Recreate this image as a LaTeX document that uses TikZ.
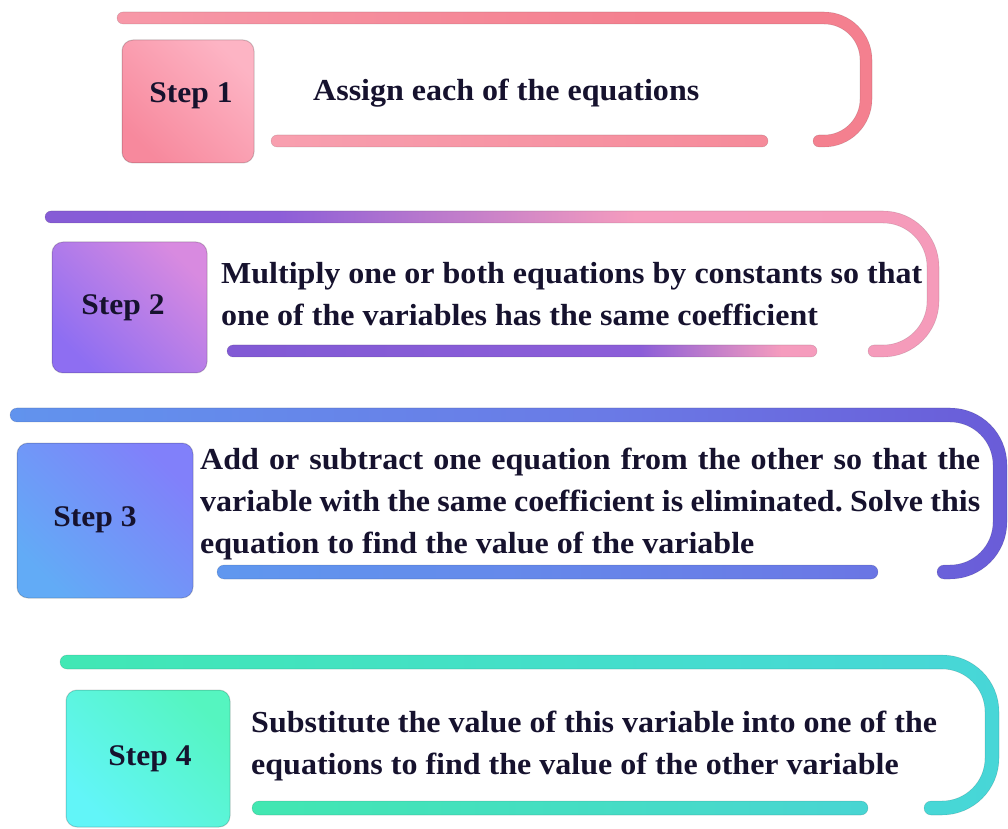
\documentclass[tikz,border=0pt]{standalone}
\usepackage{fontspec}
\setmainfont[FakeStretch=1.05]{Liberation Serif}
\definecolor{ink}{HTML}{16122E}
% section 1
\definecolor{pkA}{HTML}{F9AABA}
\definecolor{pkB}{HTML}{F4808F}
% section 2
\definecolor{puA}{HTML}{7A57D3}
\definecolor{puB}{HTML}{8C5ED8}
\definecolor{pkC}{HTML}{F59CBE}
\definecolor{pkD}{HTML}{F59AB4}
% section 3
\definecolor{blA}{HTML}{5AA8F4}
\definecolor{blB}{HTML}{6A7AE6}
\definecolor{blC}{HTML}{6A5CD8}
% section 4
\definecolor{grA}{HTML}{3EF0A0}
\definecolor{grB}{HTML}{45DCD0}
\definecolor{grC}{HTML}{4CCCE4}
% boxes
\definecolor{boxOneT}{HTML}{FDB4C4}
\definecolor{boxOneB}{HTML}{F7899D}
\definecolor{boxTwoT}{HTML}{D88AE0}
\definecolor{boxTwoM}{HTML}{FC98CA}
\definecolor{boxTwoB}{HTML}{8E6EF2}
\definecolor{boxThreeT}{HTML}{8180FA}
\definecolor{boxThreeB}{HTML}{62ABF6}
\definecolor{boxFourT}{HTML}{55F5C0}
\definecolor{boxFourB}{HTML}{62F5F8}
\pgfdeclarehorizontalshading{shOne}{100bp}{color(0bp)=(pkA); color(60bp)=(pkB); color(100bp)=(pkB)}
\pgfdeclarehorizontalshading{shOneB}{100bp}{color(0bp)=(pkA); color(100bp)=(pkB)}
\pgfdeclarehorizontalshading{shTwo}{100bp}{color(0bp)=(puA); color(38bp)=(puB); color(58bp)=(pkC); color(100bp)=(pkD)}
\pgfdeclarehorizontalshading{shTwoB}{100bp}{color(0bp)=(puA); color(60bp)=(puB); color(72bp)=(pkC); color(100bp)=(pkD)}
\pgfdeclarehorizontalshading{shThree}{100bp}{color(0bp)=(blA); color(55bp)=(blB); color(75bp)=(blC); color(100bp)=(blC)}
\pgfdeclarehorizontalshading{shThreeB}{100bp}{color(0bp)=(blA); color(70bp)=(blB); color(100bp)=(blC)}
\pgfdeclarehorizontalshading{shFour}{100bp}{color(0bp)=(grA); color(60bp)=(grB); color(100bp)=(grC)}
\pgfdeclarehorizontalshading{shFourB}{100bp}{color(0bp)=(grA); color(100bp)=(grC)}
% #1 xl, #2 top y, #3 right x, #4 bottom y, #5 bottom end x, #6 radius, #7 half width, #8 style
\newcommand\UShape[8]{\path[#8] (#1,#2+#7) -- (#3-#6,#2+#7)
  arc[start angle=90,end angle=0,radius=#6pt+#7pt] -- (#3+#7,#4+#6)
  arc[start angle=0,end angle=-90,radius=#6pt+#7pt] -- (#5,#4-#7)
  arc[start angle=-90,end angle=-270,radius=#7pt] -- (#3-#6,#4+#7)
  arc[start angle=-90,end angle=0,radius=#6pt-#7pt] -- (#3-#7,#2-#6)
  arc[start angle=0,end angle=90,radius=#6pt-#7pt] -- (#1,#2-#7)
  arc[start angle=270,end angle=90,radius=#7pt] -- cycle;}
% #1 x1, #2 x2, #3 y, #4 half width, #5 style
\newcommand\TubeBar[5]{\path[#5, rounded corners=#4pt] (#1,#3-#4) rectangle (#2,#3+#4);}
\tikzset{
  tube/.style={draw=black, draw opacity=0.12, line width=0.6pt},
  stepbox/.style={rectangle, rounded corners=11pt, draw=black, draw opacity=0.18, line width=1pt, inner sep=0},
  steplabel/.style={font=\fontsize{30}{34}\selectfont\bfseries, text=ink, inner sep=0},
  body/.style={font=\fontsize{30.5}{42}\selectfont\bfseries\frenchspacing, text=ink, align=left, anchor=west, inner sep=0},
}
\begin{document}
\begin{tikzpicture}[x=1pt,y=1pt]
\useasboundingbox[fill=white] (0,0) rectangle (1008,828);
% ---- Step 1
\UShape{123}{810}{866}{687}{819}{42}{6}{tube, shading=shOne}
\TubeBar{271}{768}{687}{6}{tube, shading=shOneB}
\node[stepbox, minimum width=132pt, minimum height=123pt,
  top color=boxOneT, bottom color=boxOneB, shading angle=-45] (b1) at (188,726.5) {};
\node[steplabel] (s1) at (191,732) {Step 1};
\node[body] (t1) at (313,735) {Assign each of the equations};
% ---- Step 2
\UShape{51}{611}{933}{477}{874}{50}{6}{tube, shading=shTwo}
\TubeBar{227}{817}{477}{6}{tube, shading=shTwoB}
\node[stepbox, minimum width=155pt, minimum height=131pt,
  top color=boxTwoT, middle color=boxTwoM, bottom color=boxTwoB, shading angle=-45] (b2) at (129.5,520.5) {};
\node[steplabel] (s2) at (123,520) {Step 2};
\node[body] (t2) at (221,534) {Multiply one or both equations by constants so that\\one of the variables has the same coefficient};
% ---- Step 3
\UShape{17}{413}{1000}{256}{944}{50}{7}{tube, shading=shThree}
\TubeBar{217}{878}{256}{7}{tube, shading=shThreeB}
\node[stepbox, minimum width=176pt, minimum height=155pt,
  top color=boxThreeT, bottom color=boxThreeB, shading angle=-45] (b3) at (105,307.5) {};
\node[steplabel] (s3) at (95,308) {Step 3};
\node[body] (t3) at (200,324) {\makebox[780pt][s]{Add or subtract one equation from the other so that the}\\\makebox[780pt][s]{variable with the same coefficient is eliminated. Solve this}\\equation to find the value of the variable};
% ---- Step 4
\UShape{67}{166}{992}{20}{931}{50}{7}{tube, shading=shFour}
\TubeBar{252}{868}{20}{7}{tube, shading=shFourB}
\node[stepbox, minimum width=164pt, minimum height=137pt,
  top color=boxFourT, bottom color=boxFourB, shading angle=-45] (b4) at (148,69.5) {};
\node[steplabel] (s4) at (150,69) {Step 4};
\node[body] (t4) at (251,81.5) {Substitute the value of this variable into one of the\\equations to find the value of the other variable};
\end{tikzpicture}
\end{document}
